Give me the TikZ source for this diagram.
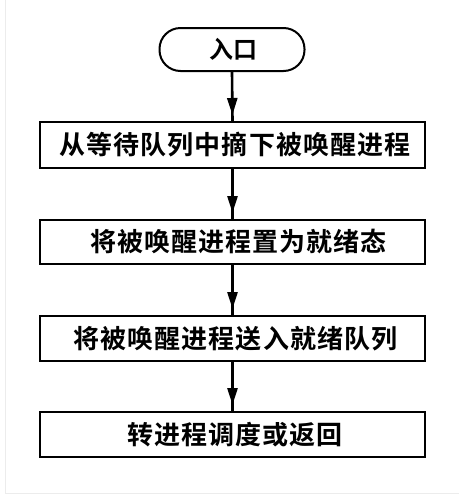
\documentclass[tikz,border=0pt]{standalone}
\usepackage{fontspec}
\newfontfamily\cjk{Noto Sans CJK SC}[BoldFont={Noto Sans CJK SC Bold},LetterSpace=4]
\usetikzlibrary{arrows.meta,decorations.markings}
\tikzset{
  boxstyle/.style={draw=black,line width=2pt,minimum width=385pt,inner sep=0pt,
    font=\cjk\bfseries\fontsize{26pt}{26pt}\selectfont},
  startstyle/.style={draw=black,line width=2pt,minimum width=145pt,minimum height=43pt,
    rounded corners=21pt,inner sep=0pt,font=\cjk\bfseries\fontsize{24pt}{24pt}\selectfont},
  flowline/.style={line width=2.6pt,postaction={decorate},
    decoration={markings,mark=at position -6pt with {\arrow{Triangle[length=17pt,width=10pt]}}}}
}
\begin{document}
\begin{tikzpicture}[x=1pt,y=-1pt]
\useasboundingbox (0,0) rectangle (459,496);
\fill[white] (0,0) rectangle (459,496);
\draw[gray!15,line width=1pt] (5,0) -- (5,493) -- (459,493);
\node[startstyle] (s) at (232,49.5) {\hspace*{3pt}入口};
\node[boxstyle,minimum height=46pt] (b1) at (232.5,145) {\hspace*{5pt}从等待队列中摘下被唤醒进程};
\node[boxstyle,minimum height=44pt] (b2) at (232.5,242) {\hspace*{12pt}将被唤醒进程置为就绪态};
\node[boxstyle,minimum height=45pt] (b3) at (232.5,338.5) {\hspace*{6pt}将被唤醒进程送入就绪队列};
\node[boxstyle,minimum height=45pt] (b4) at (232.5,434.5) {\hspace*{5pt}转进程调度或返回};
\draw[flowline] (s.south) -- (b1.north);
\draw[flowline] (b1.south) -- (b2.north);
\draw[flowline] (b2.south) -- (b3.north);
\draw[flowline] (b3.south) -- (b4.north);
\end{tikzpicture}
\end{document}
